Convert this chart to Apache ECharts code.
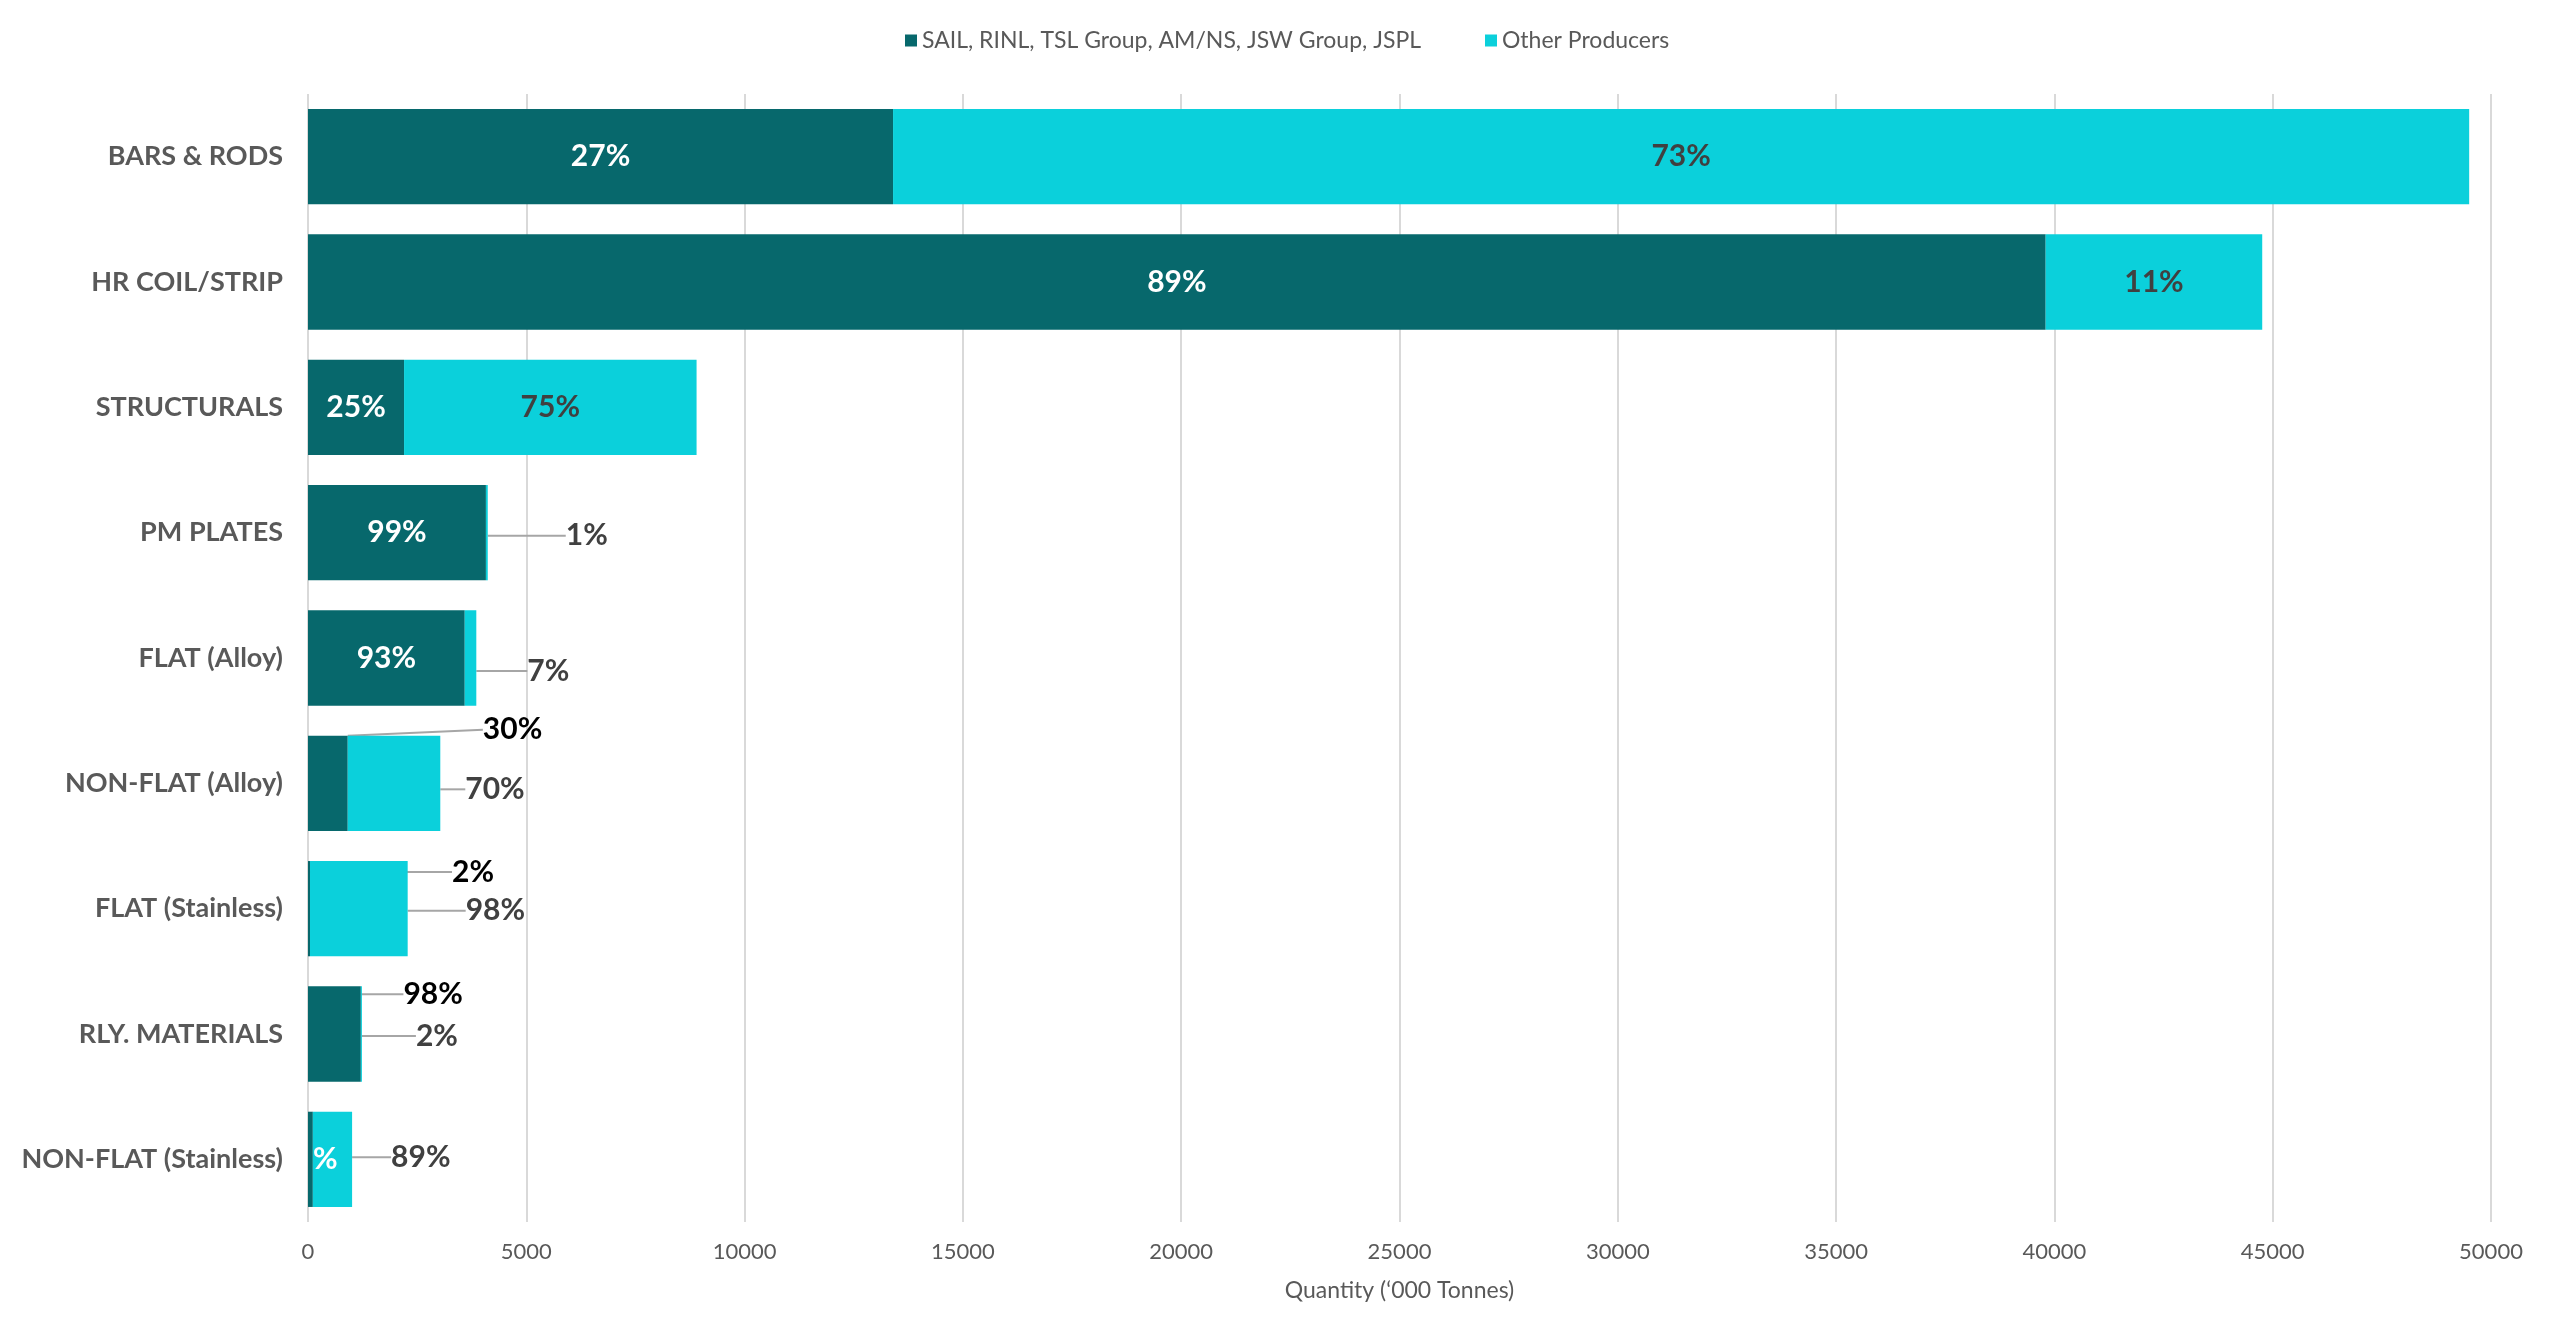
<!DOCTYPE html>
<html>
<head>
<meta charset="utf-8">
<script src="https://cdn.jsdelivr.net/npm/echarts@6/dist/echarts.min.js"></script>
<style>
html,body{margin:0;padding:0;background:#fff;}
#chart{width:2560px;height:1343px;}
</style>
</head>
<body>
<div id="chart"></div>
<script>
// ---- data ----
const categories = ['BARS & RODS', 'HR COIL/STRIP', 'STRUCTURALS', 'PM PLATES', 'FLAT (Alloy)', 'NON-FLAT (Alloy)', 'FLAT (Stainless)', 'RLY. MATERIALS', 'NON-FLAT (Stainless)'];
const seriesNames = ['SAIL, RINL, TSL Group, AM/NS, JSW Group, JSPL', 'Other Producers'];
const majorValues = [13400, 39800, 2200, 4075, 3590, 910, 46, 1210, 111];
const otherValues = [36100, 4960, 6700, 42, 265, 2120, 2237, 25, 899];
const majorPct = ['27%', '89%', '25%', '99%', '93%', '30%', '2%', '98%', '%'];
const otherPct = ['73%', '11%', '75%', '1%', '7%', '70%', '98%', '2%', '89%'];
const xTicks = [0, 5000, 10000, 15000, 20000, 25000, 30000, 35000, 40000, 45000, 50000];

// ---- styling / label placement (not data) ----
const COLORS = ['#07686c', '#0bd0db'];
const FONT = 'Lato, "Open Sans", sans-serif';
const LABEL_SIZE = 30;
// outside labels with leader lines: [seriesIndex][dataIndex]
const outside = [
  {
    5: {anchor: 'top', dx: 155, dy: -6, gap: 12, seg: 0, color: '#000'},
    6: {anchor: 'top', dx: 143, dy: 11, gap: 10, seg: 0, color: '#000'},
    7: {anchor: 'top', dx: 69, dy: 8, gap: 11, seg: 14, color: '#000'}
  },
  {
    3: {anchor: 'right', dx: 78, dy: 3, gap: 15, seg: 0, color: '#404040'},
    4: {anchor: 'right', dx: 51, dy: 13, gap: 12, seg: 10, color: '#404040'},
    5: {anchor: 'right', dx: 25, dy: 6, gap: 9, seg: 11, color: '#404040'},
    6: {anchor: 'right', dx: 58, dy: 2, gap: 12, seg: 0, color: '#404040'},
    7: {anchor: 'right', dx: 54, dy: 2, gap: 11, seg: 0, color: '#404040'},
    8: {anchor: 'right', dx: 39, dy: -2, gap: 11, seg: 18, color: '#404040'}
  }
];
const insideColor = ['#ffffff', '#404040'];

function buildData(values, pcts, sIdx) {
  return values.map(function (v, i) {
    const spec = outside[sIdx][i];
    const item = {value: v};
    if (spec) {
      item.label = {show: true, position: 'right', color: spec.color, formatter: pcts[i]};
      item.labelLine = {show: true, lineStyle: {color: '#a6a6a6', width: 2}};
    } else if (sIdx === 0 && i === 8) {
      item.label = {show: true, position: 'insideLeft', distance: 5, offset: [0, 2], color: '#ffffff', formatter: pcts[i]};
    } else {
      item.label = {show: true, position: 'inside', offset: [0, 2], color: insideColor[sIdx], formatter: pcts[i]};
    }
    return item;
  });
}

function makeLayout(sIdx) {
  return function (p) {
    const spec = outside[sIdx][p.dataIndex];
    if (!spec) return {};
    const r = p.rect;
    const ax = spec.anchor === 'top' ? r.x + r.width / 2 : r.x + r.width;
    const ay = spec.anchor === 'top' ? r.y : r.y + r.height / 2;
    const lx = ax + spec.dx, ly = ay + spec.dy;
    const ex = lx - spec.gap;
    return {
      x: lx, y: ly, align: 'left', verticalAlign: 'middle',
      labelLinePoints: [[ax, ay], [ex - spec.seg, ly], [ex, ly]]
    };
  };
}

const chart = echarts.init(document.getElementById('chart'), null, {renderer: 'canvas'});
const labelBase = {fontFamily: FONT, fontSize: LABEL_SIZE, fontWeight: 'bold'};

chart.setOption({
  animation: false,
  textStyle: {fontFamily: FONT},
  color: COLORS,
  legend: {
    top: 24, left: 900, icon: 'rect', itemWidth: 12, itemHeight: 12, itemGap: 64, itemTextGap: 6,
    textStyle: {fontSize: 23, color: '#595959', fontFamily: FONT},
    data: seriesNames
  },
  grid: {left: 308, right: 69, top: 94, bottom: 121, containLabel: false},
  xAxis: {
    type: 'value', min: xTicks[0], max: xTicks[xTicks.length - 1], interval: xTicks[1] - xTicks[0],
    name: 'Quantity (‘000 Tonnes)', nameLocation: 'middle', nameGap: 57,
    nameTextStyle: {fontSize: 23, color: '#595959', fontFamily: FONT},
    axisLine: {show: false}, axisTick: {show: false},
    axisLabel: {fontSize: 22, color: '#595959', margin: 19, fontFamily: FONT, formatter: function (v) { return String(v); }},
    splitLine: {show: true, lineStyle: {color: '#d9d9d9', width: 2}}
  },
  yAxis: {
    type: 'category', data: categories, inverse: true,
    axisLine: {show: false}, axisTick: {show: false},
    axisLabel: {fontSize: 27, fontWeight: 'bold', color: '#595959', margin: 25, fontFamily: FONT}
  },
  series: [
    {
      name: seriesNames[0], type: 'bar', stack: 'total', barWidth: '76%',
      itemStyle: {color: COLORS[0]},
      label: labelBase,
      labelLayout: makeLayout(0),
      emphasis: {disabled: true},
      data: buildData(majorValues, majorPct, 0)
    },
    {
      name: seriesNames[1], type: 'bar', stack: 'total', barWidth: '76%',
      itemStyle: {color: COLORS[1]},
      label: labelBase,
      labelLayout: makeLayout(1),
      emphasis: {disabled: true},
      data: buildData(otherValues, otherPct, 1)
    }
  ]
});
</script>
</body>
</html>
